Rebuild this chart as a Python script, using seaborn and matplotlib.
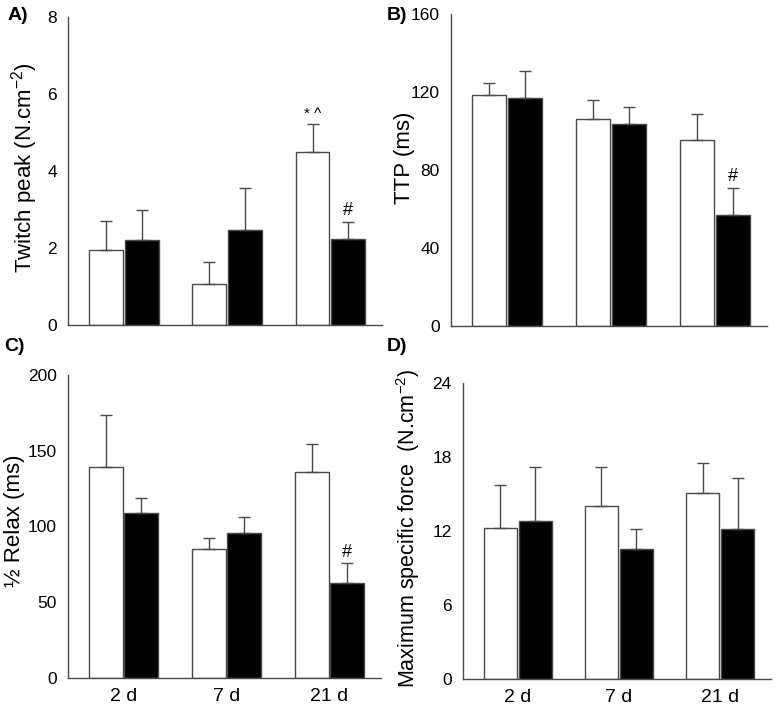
import pandas as pd
import matplotlib
matplotlib.use("Agg")
import matplotlib.pyplot as plt
import seaborn as sns

# Dados (media e erro padrao, so a barra superior)
days = ["2 d", "7 d", "21 d"]
groups = ["open", "filled"]

twitch_open = [1.95, 1.06, 4.50]
twitch_open_err = [0.75, 0.58, 0.72]
twitch_filled = [2.20, 2.47, 2.24]
twitch_filled_err = [0.79, 1.09, 0.44]

ttp_open = [118.5, 106.0, 95.4]
ttp_open_err = [6.1, 10.0, 13.3]
ttp_filled = [116.9, 103.6, 56.9]
ttp_filled_err = [13.9, 8.7, 14.1]

relax_open = [139.3, 85.1, 135.7]
relax_open_err = [34.5, 7.1, 19.0]
relax_filled = [108.7, 95.5, 62.5]
relax_filled_err = [10.1, 10.5, 13.2]

force_open = [12.23, 14.01, 15.12]
force_open_err = [3.51, 3.19, 2.38]
force_filled = [12.77, 10.50, 12.18]
force_filled_err = [4.45, 1.70, 4.12]

sns.set_style("white")
plt.rcParams["font.family"] = ["Liberation Sans", "DejaVu Sans"]
plt.rcParams["mathtext.default"] = "regular"
plt.rcParams["text.color"] = "black"
plt.rcParams["axes.labelcolor"] = "black"
plt.rcParams["xtick.labelcolor"] = "black"
plt.rcParams["ytick.labelcolor"] = "black"

EDGE = "#4a4a4a"


def plotar_painel(ax, v_open, v_filled, e_open, e_filled, ymax, step,
                  ylabel, marcas, label_xy, xlabels=True, label_size=16):
    df = pd.DataFrame({
        "day": days * 2,
        "group": [groups[0]] * 3 + [groups[1]] * 3,
        "value": v_open + v_filled,
    })
    sns.barplot(data=df, x="day", y="value", hue="group", hue_order=groups,
                palette=["white", "black"], width=0.69, gap=0.05,
                edgecolor=EDGE, linewidth=1.0, errorbar=None,
                legend=False, ax=ax)

    # barras de erro so para cima
    for cont, errs, g in zip(ax.containers, [e_open, e_filled], groups):
        xs = [b.get_x() + b.get_width() / 2 for b in cont]
        ys = [b.get_height() for b in cont]
        ax.errorbar(xs, ys, yerr=[[0] * len(errs), errs], fmt="none",
                    ecolor=EDGE, elinewidth=1.0, capsize=4,
                    capthick=1.0, zorder=1)
        for (gi, di), txt in marcas.items():
            if groups[gi] != g:
                continue
            ax.annotate(txt, (xs[di], ys[di] + errs[di]),
                        xytext=(0, 2), textcoords="offset points",
                        ha="center", va="bottom",
                        fontsize=11 if "*" in txt else 13)

    ax.set_ylim(0, ymax)
    ax.set_yticks(range(0, ymax + 1, step))
    ax.set_xlim(-0.54, 2.50)
    ax.set_xlabel("")
    ax.set_ylabel(ylabel, fontsize=label_size)
    ax.yaxis.set_label_coords(*label_xy)
    ax.tick_params(axis="y", length=3, width=1.0, color=EDGE,
                   labelsize=12.5, pad=5)
    ax.tick_params(axis="x", length=0, labelsize=14, pad=7)
    if not xlabels:
        ax.set_xticklabels([])
    sns.despine(ax=ax)
    for s in ["left", "bottom"]:
        ax.spines[s].set_color(EDGE)
        ax.spines[s].set_linewidth(1.0)
    return ax


fig = plt.figure(figsize=(7.78, 7.16), dpi=100)
ax_a = fig.add_axes([0.0874, 0.546, 0.4036, 0.430])
ax_b = fig.add_axes([0.5797, 0.5447, 0.406, 0.4358])
ax_c = fig.add_axes([0.0874, 0.0531, 0.4023, 0.4232])
ax_d = fig.add_axes([0.595, 0.0517, 0.396, 0.4134])

plotar_painel(ax_a, twitch_open, twitch_filled, twitch_open_err,
              twitch_filled_err, 8, 2, r"Twitch peak (N.cm$^{-2}$)",
              {(0, 2): "* ^", (1, 2): "#"}, (-0.089, 0.51), xlabels=False)
plotar_painel(ax_b, ttp_open, ttp_filled, ttp_open_err, ttp_filled_err,
              160, 40, "TTP (ms)", {(1, 2): "#"}, (-0.114, 0.54),
              xlabels=False)
plotar_painel(ax_c, relax_open, relax_filled, relax_open_err,
              relax_filled_err, 200, 50, "½ Relax (ms)",
              {(1, 2): "#"}, (-0.137, 0.52))
plotar_painel(ax_d, force_open, force_filled, force_open_err,
              force_filled_err, 24, 6,
              r"Maximum specific force  (N.cm$^{-2}$)", {}, (-0.133, 0.51),
              label_size=15.5)

# letras dos paineis
for txt, x, y in [("A)", 0.010, 0.978), ("B)", 0.497, 0.978),
                  ("C)", 0.006, 0.516), ("D)", 0.497, 0.516)]:
    fig.text(x, y, txt, fontsize=14, fontweight="bold", va="center")

fig.savefig("out.png", dpi=100)
